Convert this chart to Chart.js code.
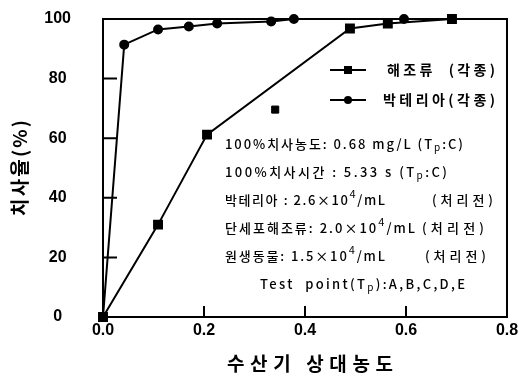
<!DOCTYPE html>
<html><head><meta charset="utf-8">
<script src="https://cdn.jsdelivr.net/npm/chart.js@4.4.1/dist/chart.umd.min.js"></script>
<style>html,body{margin:0;padding:0;background:#fff}#wrap{width:519px;height:379px}</style>
</head><body><div id="wrap"><canvas id="c" width="519" height="379"></canvas></div>
<script>
// ---- data ----
const algaeX = [0, 0.109, 0.206, 0.489, 0.564, 0.691];
const algaeY = [0, 31, 61.2, 96.8, 98.5, 100];
const algaeOutlierX = [0.341];
const algaeOutlierY = [69.6];
const bactX = [0, 0.042, 0.109, 0.170, 0.226, 0.333, 0.378, 0.596, 0.691];
const bactY = [0, 91.4, 96.5, 97.5, 98.5, 99.2, 100, 100, 100];
const xTickVals = [0, 0.2, 0.4, 0.6, 0.8];
const yTickVals = [0, 20, 40, 60, 80, 100];
const seriesNames = ['해조류  (각종)', '박테리아(각종)'];
const xTitle = '수산기 상대농도';
const yTitle = '치사율(%)';

const pts = (xs, ys) => xs.map((x, i) => ({x, y: ys[i]}));
const KR = '"Noto Sans CJK KR", "Noto Sans", sans-serif';

// annotation lines: left segments fitted between x0..x1, optional right text fitted r0..r1
const notes = [
  {x0: 225, x1: 463, y: 144, segs: [['100%치사농도: 0.68 mg/L (T'], ['p','sub'], [':C)']]},
  {x0: 225, x1: 447, y: 172, segs: [['100%치사시간 : 5.33 s (T'], ['p','sub'], [':C)']]},
  {x0: 225, x1: 385, y: 200, segs: [['박테리아 : 2.6×10'], ['4','sup'], ['/mL']], right: '(처리전)', r0: 432, r1: 493},
  {x0: 225, x1: 415, y: 228, segs: [['단세포해조류: 2.0×10'], ['4','sup'], ['/mL']], right: '(처리전)', r0: 422, r1: 484},
  {x0: 225, x1: 385, y: 256, segs: [['원생동물: 1.5×10'], ['4','sup'], ['/mL']], right: '(처리전)', r0: 425, r1: 486},
  {x0: 260, x1: 465, y: 284, segs: [['Test  point(T'], ['p','sub'], ['):A,B,C,D,E']]}
];

function segFont(s) {
  if (s === 'sub') return '10px ' + KR;
  if (s === 'sup') return '11px ' + KR;
  return '500 13px ' + KR;
}
function fitText(ctx, t, x0, x1, y) {
  ctx.letterSpacing = '0px';
  const w = ctx.measureText(t).width;
  const sp = Math.max(0, (x1 - x0 - w) / ([...t].length - 1));
  ctx.letterSpacing = sp + 'px';
  ctx.fillText(t, x0, y);
  ctx.letterSpacing = '0px';
}
function drawFitted(ctx, segs, x0, x1, y) {
  ctx.letterSpacing = '0px';
  let natural = 0, n = 0;
  segs.forEach(([t, s]) => { ctx.font = segFont(s); natural += ctx.measureText(t).width; n += [...t].length; });
  const sp = Math.max(0, (x1 - x0 - natural) / Math.max(1, n - 1));
  ctx.letterSpacing = sp + 'px';
  let cx = x0;
  segs.forEach(([t, s]) => {
    ctx.font = segFont(s);
    const dy = s === 'sub' ? 3 : s === 'sup' ? -6 : 0;
    ctx.fillText(t, cx, y + dy);
    cx += ctx.measureText(t).width;
  });
  ctx.letterSpacing = '0px';
}

const deco = {
  id: 'deco',
  afterDraw(chart) {
    const {ctx, chartArea: a, scales: {x, y}} = chart;
    ctx.save();
    ctx.strokeStyle = '#000';
    ctx.fillStyle = '#000';
    ctx.lineWidth = 2;
    ctx.strokeRect(a.left, a.top, a.right - a.left, a.bottom - a.top);
    ctx.beginPath();
    [0.2, 0.4, 0.6].forEach(v => { const p = x.getPixelForValue(v); ctx.moveTo(p, a.bottom); ctx.lineTo(p, a.bottom - 11); });
    [20, 40, 60, 80].forEach(v => { const p = y.getPixelForValue(v); ctx.moveTo(a.left, p); ctx.lineTo(a.left + 14, p); });
    ctx.stroke();

    // axis titles
    ctx.textBaseline = 'middle';
    ctx.textAlign = 'left';
    ctx.font = 'bold 19px ' + KR;
    fitText(ctx, xTitle, 227, 393, 364);
    ctx.save();
    ctx.translate(20, 168);
    ctx.rotate(-Math.PI / 2);
    ctx.font = 'bold 19px ' + KR;
    fitText(ctx, yTitle, -48, 48, 0);
    ctx.restore();

    // legend
    const ds = chart.data.datasets;
    const legY = [70, 100];
    const legX0 = [387, 383];
    [0, 1].forEach(i => {
      const d = ds[i];
      ctx.lineWidth = 2;
      ctx.beginPath(); ctx.moveTo(330, legY[i]); ctx.lineTo(366, legY[i]); ctx.stroke();
      if (d.pointStyle === 'rect') { ctx.fillRect(344, legY[i] - 4, 8, 8); }
      else { ctx.beginPath(); ctx.arc(348, legY[i], 4, 0, Math.PI * 2); ctx.fill(); }
      ctx.font = 'bold 14px ' + KR;
      fitText(ctx, d.label, legX0[i], 495, legY[i]);
    });

    // notes
    notes.forEach(nt => {
      drawFitted(ctx, nt.segs, nt.x0, nt.x1, nt.y);
      if (nt.right) drawFitted(ctx, [[nt.right]], nt.r0, nt.r1, nt.y);
    });
    ctx.restore();
  }
};

new Chart(document.getElementById('c'), {
  type: 'scatter',
  data: {
    datasets: [
      {label: seriesNames[0], data: pts(algaeX, algaeY), showLine: true, borderColor: '#000', backgroundColor: '#000',
       borderWidth: 2, pointStyle: 'rect', pointRadius: 5.6, clip: false},
      {label: seriesNames[1], data: pts(bactX, bactY), showLine: true, borderColor: '#000', backgroundColor: '#000',
       borderWidth: 2, pointStyle: 'circle', pointRadius: 4, clip: false},
      {label: 'outlier', data: pts(algaeOutlierX, algaeOutlierY), showLine: false, borderColor: '#000', backgroundColor: '#000',
       pointStyle: 'rect', pointRadius: 5, clip: false}
    ]
  },
  options: {
    responsive: false, animation: false,
    layout: {padding: {top: 19, right: 12, left: 0, bottom: 0}},
    plugins: {legend: {display: false}, tooltip: {enabled: false}},
    scales: {
      x: {
        type: 'linear', min: 0, max: 0.8,
        afterBuildTicks: s => { s.ticks = xTickVals.map(v => ({value: v})); },
        afterFit: s => { s.height = 62; s.paddingLeft = 0; s.paddingRight = 0; },
        grid: {display: false, drawTicks: false},
        border: {display: false},
        ticks: {padding: 4, color: '#000', font: {family: 'Liberation Sans, Arial', weight: 'bold', size: 16},
                callback: v => Number(v).toFixed(1), maxRotation: 0},
        title: {display: false}
      },
      y: {
        type: 'linear', min: 0, max: 100,
        afterBuildTicks: s => { s.ticks = yTickVals.map(v => ({value: v})); },
        afterFit: s => { s.width = 103; s.paddingTop = 0; s.paddingBottom = 0; },
        grid: {display: false, drawTicks: false},
        border: {display: false},
        ticks: {padding: 32, crossAlign: 'center', color: '#000', font: {family: 'Liberation Sans, Arial', weight: 'bold', size: 16}},
        title: {display: false}
      }
    }
  },
  plugins: [deco]
});
</script></body></html>
